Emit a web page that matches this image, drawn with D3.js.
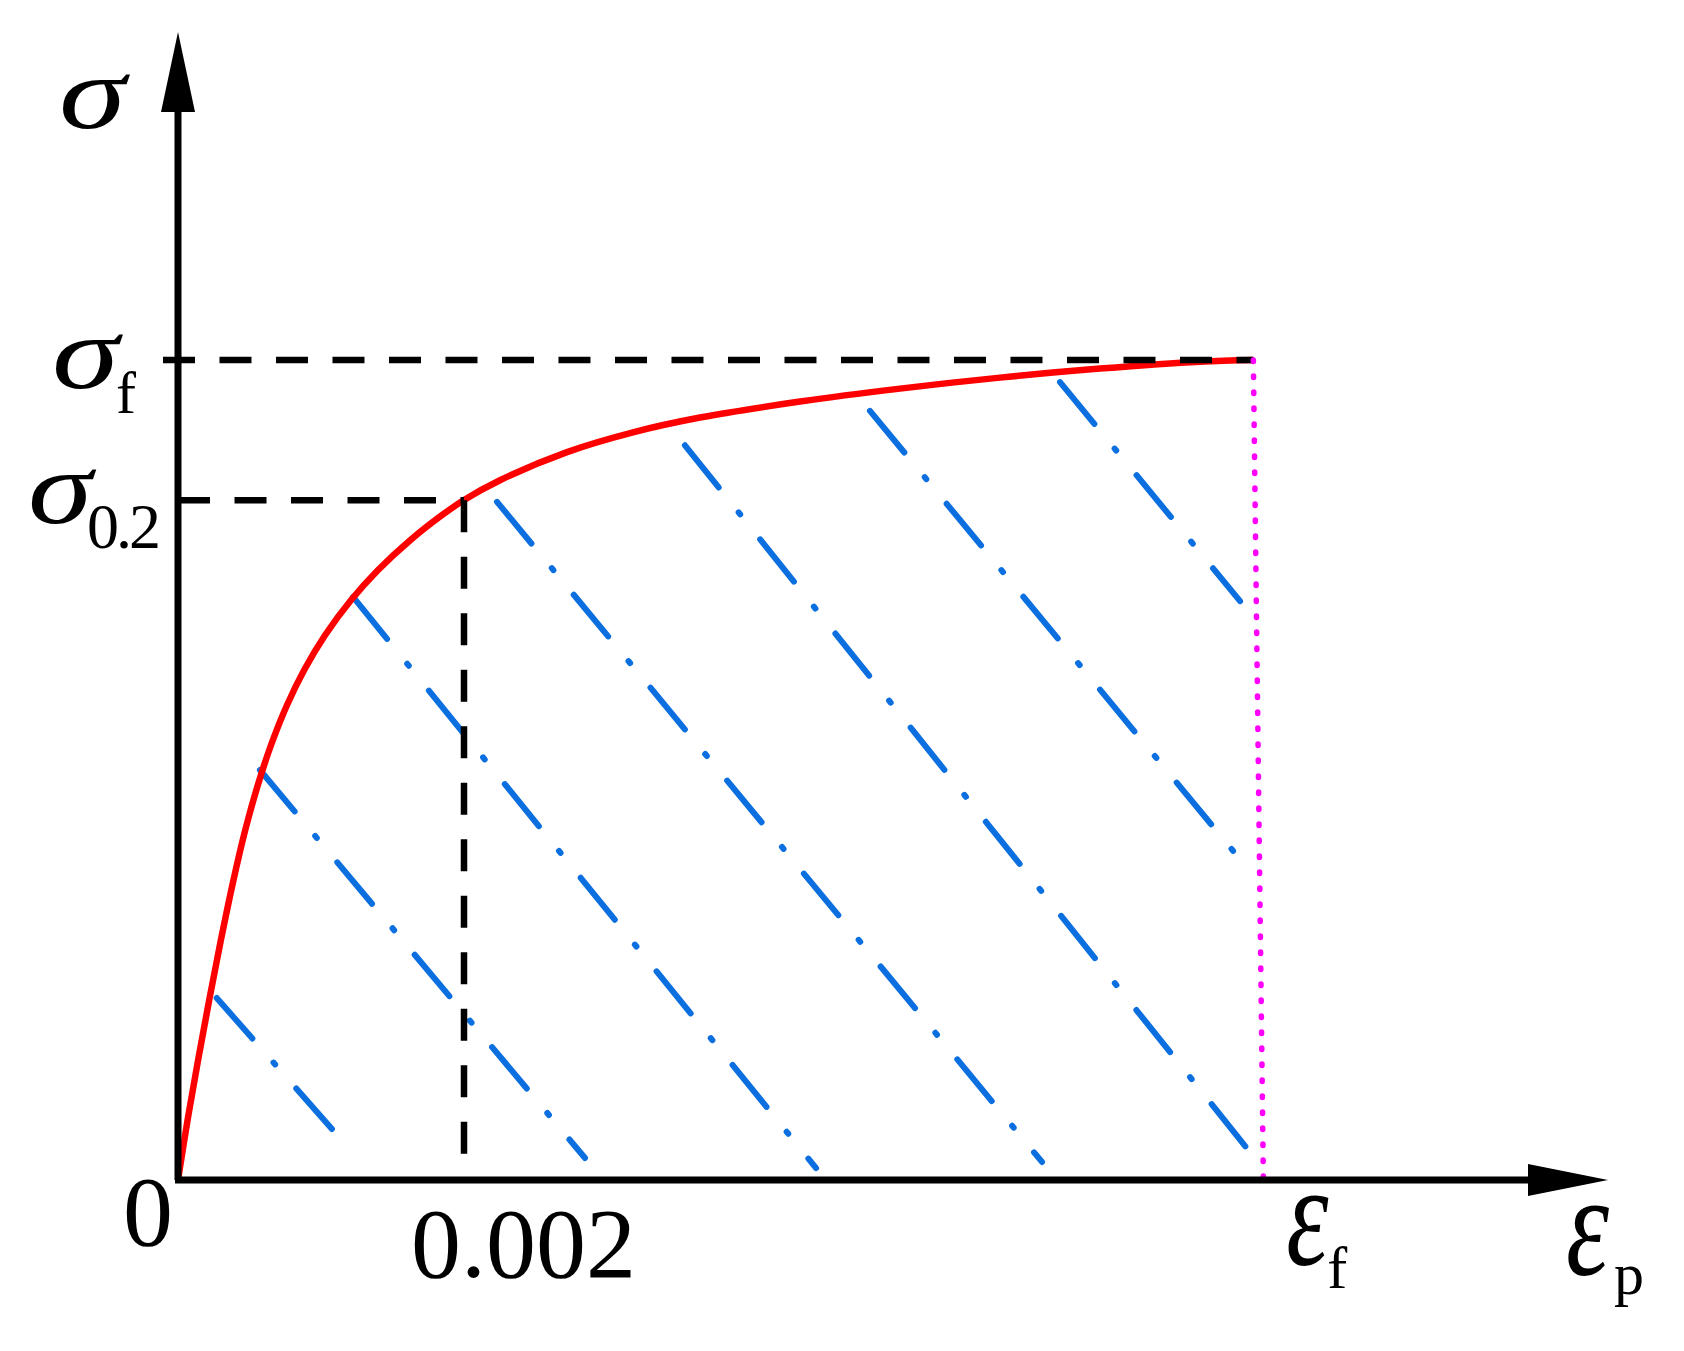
<!DOCTYPE html>
<html>
<head>
<meta charset="utf-8">
<script src="https://cdn.jsdelivr.net/npm/d3@7/dist/d3.min.js"></script>
<style>
  html, body { margin: 0; padding: 0; background: #fff; }
  svg text { font-family: 'Liberation Serif', 'Times New Roman', serif; fill: #000; }
</style>
</head>
<body>
<script>
// stress-strain curve, strain (x) and stress normalised by sigma_f (y)
var curveStrain = [0, 0.0000671, 0.0001406, 0.0002182, 0.0003, 0.0003881, 0.0004703, 0.0005584,
  0.0006507, 0.0007626, 0.0008825, 0.0010294, 0.0012105, 0.0013993, 0.0016259, 0.0018479,
  0.002, 0.0022517, 0.0027203, 0.0031818, 0.0036503, 0.0043497, 0.005049, 0.0057483,
  0.0064476, 0.0071469, 0.00752];
var curveStress = [0, 0.0732, 0.1463, 0.2195, 0.2927, 0.3659, 0.4268, 0.4817,
  0.5305, 0.5793, 0.622, 0.6646, 0.7073, 0.7439, 0.7805, 0.811,
  0.8293, 0.8534, 0.8877, 0.9118, 0.9298, 0.9493, 0.9651, 0.9785,
  0.9895, 0.998, 1.0];

// hatch lines (dash-dot) under the curve: start and end points
var hatchStart = [[0.000271, 0.222], [0.000573, 0.500], [0.001224, 0.711], [0.002231, 0.827],
  [0.003545, 0.896], [0.004839, 0.938], [0.006168, 0.973]];
var hatchEnd = [[0.001119, 0.0537], [0.002846, 0.0268], [0.004462, 0.0146], [0.006042, 0.022],
  [0.007469, 0.040], [0.007427, 0.391], [0.007427, 0.706]];

// key values
var sigmaF = 1.0, sigma02 = 0.829;
var eps02 = 0.002, epsF = 0.00752, epsFBottom = 0.00759;
var xMax = 0.01, yMax = 1.4;
var xTickLabels = ['0', '0.002'];

var W = 1684, H = 1351;

var x = d3.scaleLinear().domain([0, xMax]).range([178, 1608]),
  y = d3.scaleLinear().domain([0, yMax]).range([1180, 32]);

var svg = d3.select('body').append('svg')
  .attr('width', W)
  .attr('height', H);

var line = d3.line()
  .x(function(d) { return x(d[0]); })
  .y(function(d) { return y(d[1]); });

// blue hatching
svg.append('g')
  .attr('class', 'hatch')
  .selectAll('path')
  .data(hatchStart.map(function(s, i) { return [s, hatchEnd[i]]; }))
  .enter().append('path')
  .attr('d', line)
  .attr('fill', 'none')
  .attr('stroke', '#0b6fe0')
  .attr('stroke-width', 6)
  .attr('stroke-linecap', 'round')
  .attr('stroke-dasharray', '54 32 2.5 32');

// red curve
var curveData = curveStrain.map(function(e, i) { return [e, curveStress[i]]; });
var smooth = d3.line()
  .curve(d3.curveCatmullRom.alpha(0.5))
  .x(function(d) { return x(d[0]); })
  .y(function(d) { return y(d[1]); });
svg.append('path')
  .datum(curveData)
  .attr('d', smooth)
  .attr('fill', 'none')
  .attr('stroke', '#ff0000')
  .attr('stroke-width', 6.5);

// black dashed guide lines
var guides = [
  [[-0.000105, sigmaF], [epsF, sigmaF]],
  [[0, sigma02], [eps02, sigma02]],
  [[eps02, sigma02], [eps02, 0]]
];
svg.append('g')
  .selectAll('path')
  .data(guides)
  .enter().append('path')
  .attr('d', line)
  .attr('fill', 'none')
  .attr('stroke', '#000')
  .attr('stroke-width', 6.5)
  .attr('stroke-dasharray', '32 24.5');

// magenta dotted line at eps_f
svg.append('path')
  .datum([[epsF, sigmaF], [epsFBottom, 0]])
  .attr('d', line)
  .attr('fill', 'none')
  .attr('stroke', '#ff00ff')
  .attr('stroke-width', 5.5)
  .attr('stroke-linecap', 'round')
  .attr('stroke-dasharray', '1.5 14.5');

// axes with arrow heads
var arrowLen = 80, arrowHalf = 17;
svg.append('line')
  .attr('x1', x(0)).attr('y1', y(0))
  .attr('x2', x(0)).attr('y2', y(yMax) + arrowLen - 2)
  .attr('stroke', '#000').attr('stroke-width', 7);
svg.append('line')
  .attr('x1', x(0) - 3).attr('y1', y(0))
  .attr('x2', x(xMax) - arrowLen + 2).attr('y2', y(0))
  .attr('stroke', '#000').attr('stroke-width', 7);
svg.append('path')
  .attr('d', 'M' + x(0) + ',' + y(yMax) +
    'L' + (x(0) + arrowHalf) + ',' + (y(yMax) + arrowLen) +
    'L' + (x(0) - arrowHalf) + ',' + (y(yMax) + arrowLen) + 'Z')
  .attr('fill', '#000');
svg.append('path')
  .attr('d', 'M' + x(xMax) + ',' + y(0) +
    'L' + (x(xMax) - arrowLen) + ',' + (y(0) - arrowHalf + 1) +
    'L' + (x(xMax) - arrowLen) + ',' + (y(0) + arrowHalf - 1) + 'Z')
  .attr('fill', '#000');

// labels: italic greek symbol (stretched like the original font) + upright subscript
function label(px, py, main, sx, sy, sub, sdx, sdy, subSize, spacing) {
  svg.append('text')
    .attr('transform', 'translate(' + px + ',' + py + ') scale(' + sx + ',' + sy + ')')
    .attr('font-size', 104)
    .attr('font-style', 'italic')
    .text(main);
  if (sub) {
    svg.append('text')
      .attr('x', px + sdx)
      .attr('y', py + sdy)
      .attr('font-size', subSize)
      .attr('letter-spacing', spacing || 0)
      .text(sub);
  }
}

label(x(0) - 119, y(yMax) + 96, '\u03c3', 1.3, 1, null);
label(x(0) - 126, y(sigmaF) + 28, '\u03c3', 1.3, 1, 'f', 64, 25, 60);
label(x(0) - 150, y(sigma02) + 23, '\u03c3', 1.25, 1, '0.2', 59, 25, 64, -3);
label(x(epsF) + 33, y(0) + 85, '\u03b5', 1.03, 1.4, 'f', 41, 23, 60);
label(x(xMax) - 42, y(0) + 95, '\u03b5', 1.05, 1.4, 'p', 48, 19, 60);

svg.append('g')
  .selectAll('text')
  .data([0, eps02])
  .enter().append('text')
  .attr('x', function(d, i) { return i === 0 ? x(d) - 55 : x(d) - 53; })
  .attr('y', function(d, i) { return i === 0 ? y(0) + 65 : y(0) + 97; })
  .attr('font-size', 100)
  .text(function(d, i) { return xTickLabels[i]; });
</script>
</body>
</html>
